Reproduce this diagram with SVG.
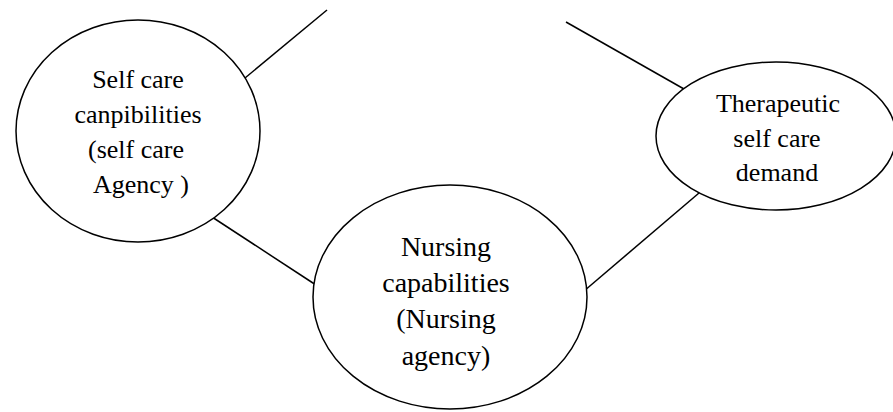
<svg xmlns="http://www.w3.org/2000/svg" width="893" height="412" viewBox="0 0 893 412">
<style>
.n{fill:#fff;stroke:#000;stroke-width:1.5}
.c line{stroke:#000;stroke-width:1.5}
text{font-family:"Liberation Serif","Times New Roman",serif;fill:#000;text-anchor:middle}
.s{font-size:26px}
.b{font-size:28px}
</style>
<rect width="893" height="412" fill="#fff"/>
<g class="c" id="connectors">
<line x1="245" y1="78" x2="327" y2="10"/>
<line x1="566" y1="22" x2="684" y2="89"/>
<line x1="212" y1="217" x2="316" y2="285"/>
<line x1="584" y1="291" x2="699" y2="193"/>
</g>
<g id="self-care-agency">
<ellipse class="n" cx="138" cy="131" rx="122" ry="111"/>
<text class="s" x="138" y="88">Self care</text>
<text class="s" x="138" y="123">canpibilities</text>
<text class="s" x="136" y="158">(self care</text>
<text class="s" x="141" y="193">Agency )</text>
</g>
<g id="therapeutic-demand">
<ellipse class="n" cx="776" cy="136" rx="120" ry="74"/>
<text class="s" x="778" y="112">Therapeutic</text>
<text class="s" x="777" y="147">self care</text>
<text class="s" x="777" y="181">demand</text>
</g>
<g id="nursing-agency">
<ellipse class="n" cx="450" cy="297" rx="137" ry="112"/>
<text class="b" x="446" y="256">Nursing</text>
<text class="b" x="446" y="292">capabilities</text>
<text class="b" x="446" y="328">(Nursing</text>
<text class="b" x="446" y="365">agency)</text>
</g>
</svg>
